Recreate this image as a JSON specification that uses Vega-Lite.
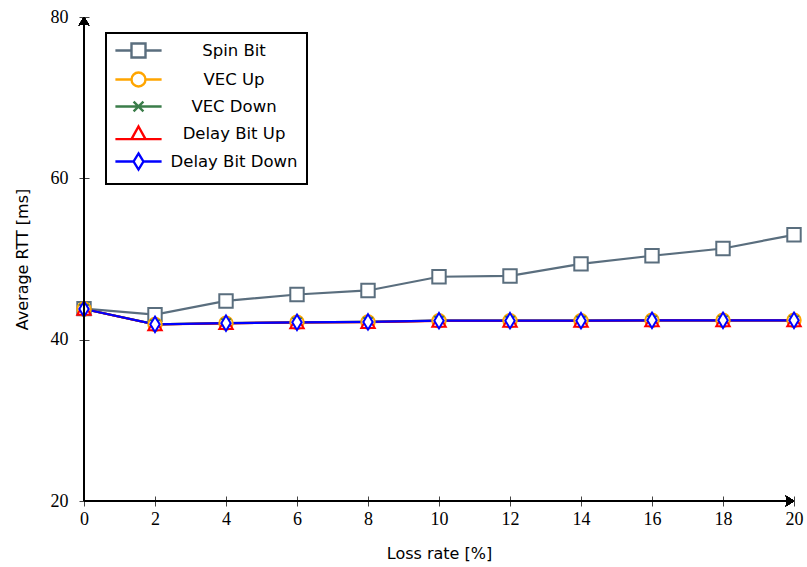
{
  "$schema": "https://vega.github.io/schema/vega-lite/v6.json",
  "width": 710,
  "height": 484,
  "autosize": {"type": "none"},
  "padding": {"left": 84, "top": 17, "right": 13, "bottom": 66},
  "background": "white",
  "config": {
    "view": {"stroke": null}
  },
  "data": {
    "values": [
      {"series": "Spin Bit", "loss": 0, "rtt": 43.85},
      {"series": "Spin Bit", "loss": 2, "rtt": 43.1},
      {"series": "Spin Bit", "loss": 4, "rtt": 44.8},
      {"series": "Spin Bit", "loss": 6, "rtt": 45.6},
      {"series": "Spin Bit", "loss": 8, "rtt": 46.1},
      {"series": "Spin Bit", "loss": 10, "rtt": 47.8},
      {"series": "Spin Bit", "loss": 12, "rtt": 47.9},
      {"series": "Spin Bit", "loss": 14, "rtt": 49.4},
      {"series": "Spin Bit", "loss": 16, "rtt": 50.4},
      {"series": "Spin Bit", "loss": 18, "rtt": 51.3},
      {"series": "Spin Bit", "loss": 20, "rtt": 53.0},
      {"series": "VEC Up", "loss": 0, "rtt": 43.8},
      {"series": "VEC Up", "loss": 2, "rtt": 41.9},
      {"series": "VEC Up", "loss": 4, "rtt": 42.05},
      {"series": "VEC Up", "loss": 6, "rtt": 42.15},
      {"series": "VEC Up", "loss": 8, "rtt": 42.2},
      {"series": "VEC Up", "loss": 10, "rtt": 42.35},
      {"series": "VEC Up", "loss": 12, "rtt": 42.35},
      {"series": "VEC Up", "loss": 14, "rtt": 42.35},
      {"series": "VEC Up", "loss": 16, "rtt": 42.4},
      {"series": "VEC Up", "loss": 18, "rtt": 42.4},
      {"series": "VEC Up", "loss": 20, "rtt": 42.4},
      {"series": "VEC Down", "loss": 0, "rtt": 43.8},
      {"series": "VEC Down", "loss": 2, "rtt": 41.9},
      {"series": "VEC Down", "loss": 4, "rtt": 42.05},
      {"series": "VEC Down", "loss": 6, "rtt": 42.15},
      {"series": "VEC Down", "loss": 8, "rtt": 42.2},
      {"series": "VEC Down", "loss": 10, "rtt": 42.35},
      {"series": "VEC Down", "loss": 12, "rtt": 42.35},
      {"series": "VEC Down", "loss": 14, "rtt": 42.35},
      {"series": "VEC Down", "loss": 16, "rtt": 42.4},
      {"series": "VEC Down", "loss": 18, "rtt": 42.4},
      {"series": "VEC Down", "loss": 20, "rtt": 42.4},
      {"series": "Delay Bit Up", "loss": 0, "rtt": 43.8},
      {"series": "Delay Bit Up", "loss": 2, "rtt": 41.88},
      {"series": "Delay Bit Up", "loss": 4, "rtt": 42.03},
      {"series": "Delay Bit Up", "loss": 6, "rtt": 42.13},
      {"series": "Delay Bit Up", "loss": 8, "rtt": 42.18},
      {"series": "Delay Bit Up", "loss": 10, "rtt": 42.33},
      {"series": "Delay Bit Up", "loss": 12, "rtt": 42.33},
      {"series": "Delay Bit Up", "loss": 14, "rtt": 42.33},
      {"series": "Delay Bit Up", "loss": 16, "rtt": 42.38},
      {"series": "Delay Bit Up", "loss": 18, "rtt": 42.38},
      {"series": "Delay Bit Up", "loss": 20, "rtt": 42.38},
      {"series": "Delay Bit Down", "loss": 0, "rtt": 43.8},
      {"series": "Delay Bit Down", "loss": 2, "rtt": 41.9},
      {"series": "Delay Bit Down", "loss": 4, "rtt": 42.05},
      {"series": "Delay Bit Down", "loss": 6, "rtt": 42.15},
      {"series": "Delay Bit Down", "loss": 8, "rtt": 42.2},
      {"series": "Delay Bit Down", "loss": 10, "rtt": 42.35},
      {"series": "Delay Bit Down", "loss": 12, "rtt": 42.35},
      {"series": "Delay Bit Down", "loss": 14, "rtt": 42.35},
      {"series": "Delay Bit Down", "loss": 16, "rtt": 42.4},
      {"series": "Delay Bit Down", "loss": 18, "rtt": 42.4},
      {"series": "Delay Bit Down", "loss": 20, "rtt": 42.4}
    ]
  },
  "encoding": {
    "x": {"field": "loss", "type": "quantitative", "scale": {"domain": [0, 20], "nice": false},
          "axis": {"title": "Loss rate [%]", "values": [0, 2, 4, 6, 8, 10, 12, 14, 16, 18, 20],
                   "grid": false, "domain": false, "tickSize": 10, "offset": -5, "tickColor": "#444444", "tickWidth": 1,
                   "labelFlush": false, "labelOverlap": false,
                   "labelFont": "Liberation Serif", "labelFontSize": 18, "labelColor": "black", "labelPadding": 4,
                   "titleFont": "DejaVu Sans", "titleFontSize": 16, "titleFontWeight": "normal", "titleColor": "black", "titlePadding": 17}},
    "y": {"field": "rtt", "type": "quantitative", "scale": {"domain": [20, 80], "nice": false, "zero": false},
          "axis": {"title": "Average RTT [ms]", "values": [20, 40, 60, 80],
                   "grid": false, "domain": false, "tickSize": 10, "offset": -5, "tickColor": "#444444", "tickWidth": 1,
                   "labelFlush": false, "labelOverlap": false,
                   "labelFont": "Liberation Serif", "labelFontSize": 18, "labelColor": "black", "labelPadding": 11,
                   "titleFont": "DejaVu Sans", "titleFontSize": 16, "titleFontWeight": "normal", "titleColor": "black", "titlePadding": 20}},
    "color": {
      "field": "series", "type": "nominal",
      "scale": {
        "domain": ["Spin Bit", "VEC Up", "VEC Down", "Delay Bit Up", "Delay Bit Down"],
        "range": ["#5a6e7e", "#ffa500", "#3b7d4a", "#ff0000", "#0000ff"]
      },
      "legend": {
        "title": null,
        "orient": "none",
        "legendX": 22,
        "legendY": 16,
        "padding": 9,
        "strokeColor": "black",
        "fillColor": "white",
        "cornerRadius": 0,
        "symbolSize": 196,
        "symbolStrokeWidth": 2,
        "symbolOffset": 15,
        "labelOffset": 87,
        "labelAlign": "center",
        "labelFont": "DejaVu Sans",
        "labelFontSize": 16.5,
        "labelColor": "black",
        "labelLimit": 300,
        "rowPadding": 4,
        "encode": {
          "legend": {"update": {"strokeWidth": {"value": 2}}},
          "symbols": {
            "update": {
              "shape": {"signal": "datum.value === 'Spin Bit' ? 'M-3.3,0H-1M1,0H3.3M-1,-1H1V1H-1Z' : datum.value === 'VEC Up' ? 'M-3.3,0H-1M1,0H3.3M-1,0A1,1 0 1,0 1,0A1,1 0 1,0 -1,0Z' : datum.value === 'VEC Down' ? 'M-3.3,0H3.3M-0.7,-0.7L0.7,0.7M-0.7,0.7L0.7,-0.7' : datum.value === 'Delay Bit Up' ? 'M-3.3,0.8H3.3M0,-1L1,0.8H-1Z' : 'M-3.3,0H-0.7M0.7,0H3.3M0,-1.15L0.7,0L0,1.15L-0.7,0Z'"},
              "fill": {"value": "white"},
              "strokeWidth": {"value": 2.4},
              "opacity": {"value": 1}
            }
          }
        }
      }
    }
  },
  "layer": [
    {"mark": {"type": "line", "strokeWidth": 2.2}},
    {"transform": [{"filter": "datum.series === 'Spin Bit'"}],
     "mark": {"type": "point", "shape": "square", "filled": false, "fill": "white", "fillOpacity": 1, "opacity": 1, "size": 180, "strokeWidth": 2}},
    {"transform": [{"filter": "datum.series === 'VEC Up'"}],
     "mark": {"type": "point", "shape": "circle", "filled": false, "fill": "white", "fillOpacity": 1, "opacity": 1, "size": 180, "strokeWidth": 2}},
    {"transform": [{"filter": "datum.series === 'VEC Down'"}],
     "mark": {"type": "point", "shape": "M-0.7,-0.7L0.7,0.7M-0.7,0.7L0.7,-0.7", "filled": false, "fill": "white", "fillOpacity": 1, "opacity": 1, "size": 180, "strokeWidth": 2}},
    {"transform": [{"filter": "datum.series === 'Delay Bit Up'"}],
     "mark": {"type": "point", "shape": "triangle-up", "filled": false, "fill": "white", "fillOpacity": 1, "opacity": 1, "size": 180, "strokeWidth": 2}},
    {"transform": [{"filter": "datum.series === 'Delay Bit Down'"}],
     "mark": {"type": "point", "shape": "M0,-1.15L0.7,0L0,1.15L-0.7,0Z", "filled": false, "fill": "white", "fillOpacity": 1, "opacity": 1, "size": 180, "strokeWidth": 2}},
    {
      "mark": {"type": "rule", "color": "black", "strokeWidth": 2},
      "encoding": {
        "x": {"datum": 0, "type": "quantitative"},
        "x2": {"datum": 20},
        "y": {"datum": 20, "type": "quantitative"},
        "color": {"value": "black"}
      }
    },
    {
      "mark": {"type": "rule", "color": "black", "strokeWidth": 2},
      "encoding": {
        "x": {"datum": 0, "type": "quantitative"},
        "y": {"datum": 20, "type": "quantitative"},
        "y2": {"datum": 80},
        "color": {"value": "black"}
      }
    },
    {
      "mark": {"type": "point", "filled": true, "opacity": 1, "size": 120, "shape": "M0,0L-1.5,-0.95Q-1.05,0,-1.5,0.95Z"},
      "encoding": {
        "x": {"datum": 20, "type": "quantitative"},
        "y": {"datum": 20, "type": "quantitative"},
        "color": {"value": "black"}
      }
    },
    {
      "mark": {"type": "point", "filled": true, "opacity": 1, "size": 120, "shape": "M0,0L-0.95,1.5Q0,1.05,0.95,1.5Z"},
      "encoding": {
        "x": {"datum": 0, "type": "quantitative"},
        "y": {"datum": 80, "type": "quantitative"},
        "color": {"value": "black"}
      }
    }
  ]
}
